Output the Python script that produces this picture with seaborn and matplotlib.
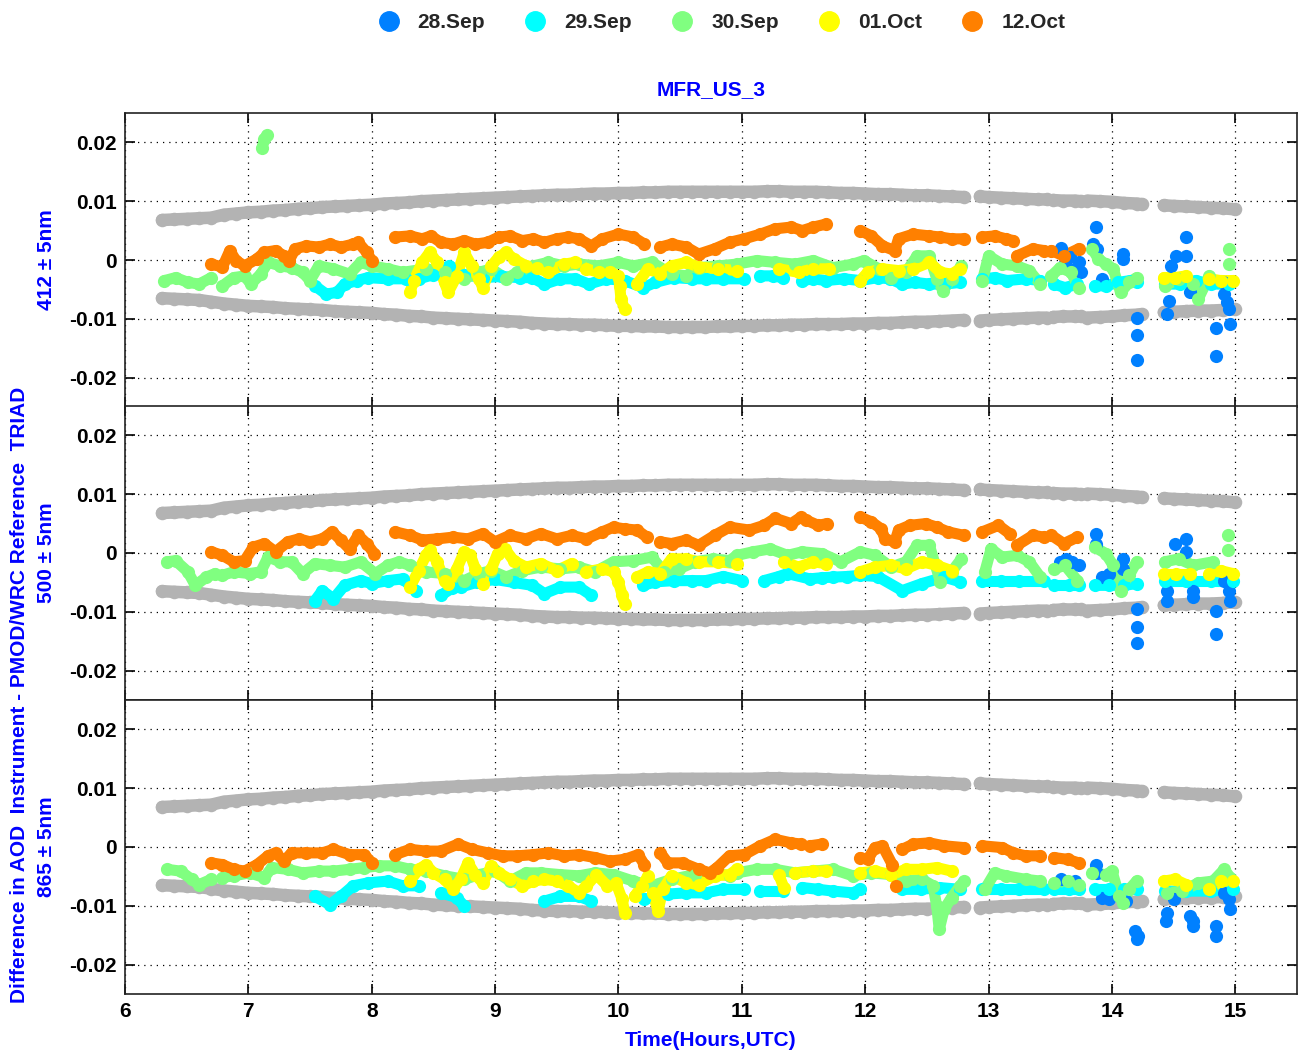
import numpy as np
import pandas as pd
import matplotlib
matplotlib.use("Agg")
import matplotlib.pyplot as plt
from matplotlib.lines import Line2D
import seaborn as sns

# ---------------------------------------------
# data
# ---------------------------------------------
nan = np.nan
GAP = None

DATES = ["28.Sep", "29.Sep", "30.Sep", "01.Oct", "12.Oct"]
DATE_COLORS = ["#0080ff", "#00ffff", "#80ff80", "#ffff00", "#ff8000"]
BANDS = ["412 \u00b1 5nm", "500 \u00b1 5nm", "865 \u00b1 5nm"]
Y_TICKS = [-0.02, -0.01, 0, 0.01, 0.02]
Y_TICK_LABELS = ["-0.02", "-0.01", "0", "0.01", "0.02"]
X_TICKS = [6, 7, 8, 9, 10, 11, 12, 13, 14, 15]

# limits of the acceptance band (same in all three panels)
gray_t = [6.3, 6.4, 6.5, 6.6, 6.7, 6.8, 6.9, 7.0, 7.1, 7.2,
          7.3, 7.4, 7.5, 7.6, 7.7, 7.8, 7.9, 8.0, 8.1, 8.2,
          8.3, 8.4, 8.5, 8.6, 8.7, 8.8, 8.9, 9.0, 9.1, 9.2,
          9.3, 9.4, 9.5, 9.6, 9.7, 9.8, 9.9, 10.0, 10.1, 10.2,
          10.3, 10.4, 10.5, 10.6, 10.7, 10.8, 10.9, 11.0, 11.1, 11.2,
          11.3, 11.4, 11.5, 11.6, 11.7, 11.8, 11.9, 12.0, 12.1, 12.2,
          12.3, 12.4, 12.5, 12.6, 12.7, 12.8,
          nan, 12.93, 13.0, 13.1, 13.2, 13.3, 13.4, 13.47,
          nan, 13.52, 13.6, 13.7, 13.75,
          nan, 13.8, 13.9, 14.0, 14.1, 14.2, 14.24,
          nan, 14.42, 14.5, 14.6, 14.7, 14.8, 14.9, 15.0]
gray_hi = [0.0068, 0.0069, 0.0070, 0.0071, 0.0072, 0.0077, 0.0079, 0.0081, 0.0082, 0.0084,
           0.0085, 0.0087, 0.0088, 0.0090, 0.0091, 0.0092, 0.0093, 0.0094, 0.0096, 0.0097,
           0.0098, 0.0100, 0.0101, 0.0102, 0.0103, 0.0104, 0.0105, 0.0106, 0.0107, 0.0108,
           0.0109, 0.0110, 0.0111, 0.0111, 0.0112, 0.0113, 0.0113, 0.0114, 0.0114, 0.0115,
           0.0115, 0.0116, 0.0116, 0.0116, 0.0116, 0.0116, 0.0116, 0.0116, 0.0116, 0.0117,
           0.0117, 0.0116, 0.0116, 0.0116, 0.0115, 0.0114, 0.0114, 0.0113, 0.0112, 0.0112,
           0.0111, 0.0110, 0.0110, 0.0109, 0.0108, 0.0107,
           nan, 0.0108, 0.0107, 0.0106, 0.0105, 0.0104, 0.0103, 0.0103,
           nan, 0.0102, 0.0101, 0.0101, 0.0100,
           nan, 0.0101, 0.0100, 0.0099, 0.0097, 0.0096, 0.0095,
           nan, 0.0093, 0.0092, 0.0091, 0.0090, 0.0089, 0.0088, 0.0086]
gray_lo = [-0.0065, -0.0066, -0.0067, -0.0068, -0.0071, -0.0074, -0.0076, -0.0078, -0.0079, -0.0080,
           -0.0082, -0.0083, -0.0084, -0.0085, -0.0087, -0.0088, -0.0089, -0.0090, -0.0092, -0.0093,
           -0.0095, -0.0096, -0.0098, -0.0099, -0.0100, -0.0101, -0.0102, -0.0103, -0.0104, -0.0105,
           -0.0107, -0.0108, -0.0109, -0.0109, -0.0110, -0.0110, -0.0111, -0.0112, -0.0112, -0.0113,
           -0.0113, -0.0114, -0.0114, -0.0114, -0.0114, -0.0113, -0.0113, -0.0112, -0.0112, -0.0111,
           -0.0111, -0.0110, -0.0110, -0.0109, -0.0109, -0.0109, -0.0108, -0.0108, -0.0107, -0.0107,
           -0.0106, -0.0105, -0.0105, -0.0104, -0.0103, -0.0102,
           nan, -0.0103, -0.0102, -0.0101, -0.0100, -0.0099, -0.0098, -0.0098,
           nan, -0.0097, -0.0096, -0.0096, -0.0096,
           nan, -0.0098, -0.0097, -0.0096, -0.0094, -0.0093, -0.0092,
           nan, -0.0089, -0.0088, -0.0087, -0.0086, -0.0086, -0.0085, -0.0084]

# ---------- 412 nm ----------
p412_sep28 = [(13.59, 0.0020), (13.62, -0.0005), (13.66, 0.0005), (13.70, -0.0015), (13.73, -0.0003),
              (13.75, -0.0020), (13.85, 0.0027), (13.87, 0.0056), (13.88, 0.0019), (13.92, -0.0032),
              (14.09, 0.0010), (14.09, 0.0002), (14.20, -0.0098), (14.20, -0.0128), (14.20, -0.0170),
              (14.45, -0.0092), (14.46, -0.0069), (14.48, -0.0010), (14.52, 0.0007), (14.60, 0.0039),
              (14.60, 0.0007), (14.63, -0.0055), (14.84, -0.0115), (14.84, -0.0163), (14.90, -0.0038),
              (14.91, -0.0058), (14.93, -0.0072), (14.95, -0.0084), (14.96, -0.0109)]
p412_sep29 = [(7.54, -0.0044), (7.63, -0.0058), (7.72, -0.0055), (7.78, -0.0041), (7.88, -0.0035),
              (7.97, -0.0030), (8.13, -0.0032), (8.28, -0.0032), (8.38, -0.0032), (8.50, -0.0025),
              (8.63, -0.0010), (8.75, -0.0025), (8.90, -0.0030), (9.05, -0.0028), (9.20, -0.0030),
              (9.30, -0.0030), (9.40, -0.0041), (9.53, -0.0032), (9.65, -0.0032), (9.76, -0.0041),
              (9.90, -0.0032), (10.05, -0.0035), (10.20, -0.0047), (10.30, -0.0038), (10.45, -0.0030),
              (10.60, -0.0032), (10.71, -0.0032), (10.85, -0.0032), (11.02, -0.0032), GAP,
              (11.15, -0.0027), (11.25, -0.0027), (11.33, -0.0030), GAP,
              (11.49, -0.0035), (11.58, -0.0032), (11.68, -0.0035), (11.83, -0.0032), (11.96, -0.0035),
              (12.10, -0.0030), (12.20, -0.0032), (12.30, -0.0041), (12.40, -0.0038), (12.52, -0.0041),
              (12.65, -0.0041), (12.77, -0.0038), GAP,
              (12.95, -0.0032), (13.05, -0.0030), (13.15, -0.0035), (13.30, -0.0032), (13.42, -0.0035), GAP,
              (13.53, -0.0041), (13.62, -0.0047), (13.72, -0.0041), GAP,
              (13.86, -0.0044), (13.95, -0.0044), (14.05, -0.0038), (14.15, -0.0035), (14.20, -0.0038), GAP,
              (14.43, -0.0041), (14.55, -0.0041), (14.68, -0.0035), (14.80, -0.0041), (14.95, -0.0041)]
p412_sep30 = [(7.11, 0.0190), (7.13, 0.0205), (7.15, 0.0212), GAP,
              (6.32, -0.0035), (6.41, -0.0030), (6.51, -0.0038), (6.60, -0.0041), (6.70, -0.0030), GAP,
              (6.79, -0.0044), (6.88, -0.0030), (6.97, -0.0027), (7.02, -0.0041), (7.10, -0.0024),
              (7.16, -0.0004), (7.26, -0.0010), (7.35, -0.0013), (7.44, -0.0021), (7.50, -0.0035),
              (7.57, -0.0010), (7.69, -0.0015), (7.82, -0.0024), (7.91, -0.0004), (8.00, -0.0010),
              (8.13, -0.0015), (8.25, -0.0021), (8.44, -0.0015), (8.59, -0.0021), (8.75, -0.0032),
              (8.87, -0.0021), (8.97, -0.0015), (9.09, -0.0032), (9.18, -0.0021), (9.31, -0.0010),
              (9.43, -0.0004), (9.56, -0.0010), (9.68, -0.0007), (9.84, -0.0010), (10.00, -0.0004),
              (10.12, -0.0010), (10.27, -0.0004), (10.43, -0.0024), (10.55, -0.0027), (10.65, -0.0013),
              (10.81, -0.0010), (10.96, -0.0007), (11.12, -0.0001), (11.27, -0.0004), (11.43, -0.0007),
              (11.58, -0.0001), (11.74, -0.0013), (11.90, -0.0007), (11.99, -0.0001), (12.11, -0.0015),
              (12.21, -0.0030), (12.33, -0.0021), (12.42, 0.0007), (12.52, 0.0007), (12.58, -0.0032),
              (12.63, -0.0052), (12.70, -0.0032), (12.78, -0.0010), GAP,
              (12.95, -0.0035), (13.00, 0.0007), (13.11, -0.0007), (13.23, -0.0010), (13.33, -0.0018),
              (13.42, -0.0041), GAP,
              (13.51, -0.0027), (13.58, -0.0013), (13.67, -0.0021), (13.73, -0.0047), GAP,
              (13.84, 0.0019), (13.89, 0.0002), (13.95, -0.0007), (14.01, -0.0015), (14.07, -0.0055),
              (14.14, -0.0038), (14.20, -0.0030), GAP,
              (14.43, -0.0044), (14.54, -0.0032), (14.66, -0.0041), (14.70, -0.0066), (14.79, -0.0027), GAP,
              (14.95, 0.0019), GAP, (14.95, -0.0007)]
p412_oct01 = [(8.31, -0.0055), (8.34, -0.0035), (8.41, -0.0004), (8.47, 0.0013), (8.53, -0.0004),
              (8.59, -0.0038), (8.62, -0.0055), (8.69, -0.0027), (8.75, 0.0013), (8.81, -0.0010),
              (8.87, -0.0032), (8.90, -0.0047), (8.97, -0.0010), (9.03, 0.0005), (9.09, 0.0013),
              (9.15, 0.0002), (9.25, -0.0010), (9.34, -0.0013), (9.43, -0.0021), (9.56, -0.0007),
              (9.65, -0.0004), (9.74, -0.0015), (9.84, -0.0021), (9.93, -0.0021), (10.00, -0.0027),
              (10.01, -0.0044), (10.02, -0.0066), (10.05, -0.0084), GAP,
              (10.15, -0.0041), (10.24, -0.0015), (10.34, -0.0024), (10.43, -0.0010), (10.55, -0.0004),
              (10.65, -0.0012), (10.81, -0.0015), (10.96, -0.0018), GAP,
              (11.30, -0.0015), (11.46, -0.0021), (11.58, -0.0015), (11.71, -0.0015), GAP,
              (11.96, -0.0035), (12.02, -0.0021), (12.14, -0.0015), (12.27, -0.0018), (12.39, -0.0015),
              (12.52, -0.0004), (12.61, -0.0021), (12.70, -0.0024), (12.77, -0.0015), GAP,
              (14.42, -0.0030), (14.51, -0.0030), (14.60, -0.0027), GAP,
              (14.79, -0.0032), (14.88, -0.0035), (14.98, -0.0035)]
p412_oct12 = [(6.70, -0.0007), (6.79, -0.0012), (6.85, 0.0016), (6.90, -0.0001), (6.97, -0.0010),
              (7.07, 0.0002), (7.13, 0.0013), (7.22, 0.0016), (7.29, 0.0007), (7.33, -0.0001),
              (7.38, 0.0019), (7.47, 0.0024), (7.57, 0.0022), (7.66, 0.0027), (7.75, 0.0022),
              (7.85, 0.0027), (7.89, 0.0030), (7.96, 0.0013), (8.00, -0.0001), GAP,
              (8.19, 0.0039), (8.31, 0.0041), (8.41, 0.0036), (8.48, 0.0041), (8.56, 0.0030),
              (8.66, 0.0027), (8.75, 0.0033), (8.84, 0.0027), (8.94, 0.0030), (9.03, 0.0039),
              (9.12, 0.0041), (9.22, 0.0033), (9.31, 0.0036), (9.40, 0.0030), (9.50, 0.0036),
              (9.59, 0.0039), (9.68, 0.0036), (9.78, 0.0024), (9.87, 0.0036), (10.00, 0.0044),
              (10.12, 0.0039), (10.21, 0.0027), GAP,
              (10.34, 0.0022), (10.43, 0.0027), (10.55, 0.0022), (10.65, 0.0010), (10.78, 0.0019),
              (10.90, 0.0030), (11.02, 0.0036), (11.15, 0.0044), (11.27, 0.0053), (11.40, 0.0056),
              (11.49, 0.0050), (11.58, 0.0056), (11.68, 0.0061), GAP,
              (11.96, 0.0050), (12.05, 0.0041), (12.14, 0.0024), (12.24, 0.0016), (12.27, 0.0036),
              (12.39, 0.0044), (12.52, 0.0041), (12.61, 0.0039), (12.70, 0.0036), (12.80, 0.0036), GAP,
              (12.95, 0.0039), (13.05, 0.0041), (13.14, 0.0036), (13.20, 0.0033), GAP,
              (13.23, 0.0007), (13.36, 0.0019), (13.45, 0.0016), GAP,
              (13.51, 0.0016), (13.61, 0.0007), (13.73, 0.0019)]

# ---------- 500 nm ----------
p500_sep28 = [(13.58, -0.0016), (13.63, -0.0010), (13.68, -0.0015), (13.73, -0.0020), (13.87, 0.0033),
              (13.87, 0.0016), (13.92, -0.0041), (13.98, -0.0035), (14.09, -0.0010), (14.09, -0.0027),
              (14.20, -0.0096), (14.20, -0.0125), (14.20, -0.0153), (14.45, -0.0081), (14.45, -0.0064),
              (14.51, 0.0016), (14.60, 0.0024), (14.60, 0.0002), (14.66, -0.0064), (14.66, -0.0075),
              (14.84, -0.0098), (14.84, -0.0138), (14.91, -0.0047), (14.95, -0.0064), (14.96, -0.0081)]
p500_sep29 = [(7.54, -0.0081), (7.60, -0.0064), (7.69, -0.0078), (7.78, -0.0055), (7.91, -0.0047),
              (8.00, -0.0052), (8.13, -0.0047), (8.25, -0.0044), (8.36, -0.0064), GAP,
              (8.56, -0.0072), (8.65, -0.0060), (8.72, -0.0058), (8.85, -0.0050), (9.00, -0.0045),
              (9.15, -0.0050), (9.30, -0.0055), (9.40, -0.0069), (9.53, -0.0058), (9.68, -0.0058),
              (9.78, -0.0072), GAP,
              (10.20, -0.0055), (10.30, -0.0049), (10.45, -0.0047), (10.60, -0.0047), (10.71, -0.0047),
              (10.85, -0.0040), (11.00, -0.0047), GAP,
              (11.18, -0.0047), (11.30, -0.0040), (11.37, -0.0035), (11.55, -0.0044), (11.65, -0.0042),
              (11.74, -0.0041), (11.85, -0.0040), (11.96, -0.0038), (12.10, -0.0040), (12.30, -0.0064),
              (12.46, -0.0052), (12.64, -0.0041), (12.77, -0.0049), GAP,
              (12.95, -0.0047), (13.10, -0.0047), (13.25, -0.0047), (13.45, -0.0047), GAP,
              (13.53, -0.0055), (13.65, -0.0055), (13.73, -0.0055), GAP,
              (13.86, -0.0055), (13.98, -0.0055), (14.10, -0.0055), (14.20, -0.0052), GAP,
              (14.43, -0.0047), (14.60, -0.0047), (14.80, -0.0047), (14.98, -0.0047)]
p500_sep30 = [(6.34, -0.0015), (6.41, -0.0013), (6.51, -0.0032), (6.57, -0.0055), (6.66, -0.0041),
              (6.73, -0.0035), GAP,
              (6.79, -0.0038), (6.88, -0.0032), (7.01, -0.0035), (7.10, -0.0032), (7.16, -0.0007),
              (7.26, -0.0015), (7.35, -0.0015), (7.44, -0.0035), (7.54, -0.0018), (7.66, -0.0021),
              (7.78, -0.0024), (7.91, -0.0015), (8.03, -0.0035), (8.13, -0.0021), (8.22, -0.0015),
              (8.31, -0.0021), (8.44, -0.0032), (8.59, -0.0035), (8.75, -0.0047), (8.87, -0.0035),
              (8.97, -0.0030), (9.09, -0.0041), (9.22, -0.0030), (9.37, -0.0024), (9.53, -0.0027),
              (9.68, -0.0024), (9.81, -0.0032), (9.96, -0.0015), (10.12, -0.0013), (10.27, -0.0007),
              (10.37, -0.0032), (10.49, -0.0027), (10.62, -0.0015), (10.77, -0.0010), (10.90, -0.0013),
              (10.96, -0.0004), (11.09, 0.0002), (11.23, 0.0007), (11.37, -0.0004), (11.49, 0.0002),
              (11.65, -0.0001), (11.80, -0.0015), (11.96, 0.0002), (12.08, -0.0004), (12.21, -0.0024),
              (12.33, -0.0015), (12.42, 0.0013), (12.52, 0.0013), (12.61, -0.0049), (12.70, -0.0032),
              (12.78, -0.0010), GAP,
              (12.97, -0.0032), (13.02, 0.0007), (13.11, -0.0007), (13.23, -0.0004), (13.33, -0.0015),
              (13.42, -0.0041), GAP,
              (13.53, -0.0027), (13.62, -0.0021), (13.72, -0.0047), GAP,
              (13.86, 0.0010), (13.95, -0.0001), (14.01, -0.0021), (14.07, -0.0064), (14.14, -0.0038),
              (14.20, -0.0015), GAP,
              (14.43, -0.0015), (14.54, -0.0010), (14.66, -0.0021), (14.82, -0.0015), GAP,
              (14.94, 0.0030), GAP, (14.94, 0.0005)]
p500_oct01 = [(8.31, -0.0058), (8.38, -0.0030), (8.44, -0.0004), (8.47, 0.0005), (8.53, -0.0015),
              (8.59, -0.0047), (8.62, -0.0052), (8.69, -0.0027), (8.75, 0.0002), (8.80, -0.0004),
              (8.84, -0.0027), (8.90, -0.0052), (8.97, -0.0027), (9.02, -0.0001), (9.08, 0.0007),
              (9.15, -0.0013), (9.25, -0.0024), (9.37, -0.0018), (9.50, -0.0030), (9.62, -0.0018),
              (9.74, -0.0032), (9.87, -0.0027), (9.96, -0.0032), (10.00, -0.0049), (10.03, -0.0072),
              (10.05, -0.0086), GAP,
              (10.15, -0.0041), (10.24, -0.0032), (10.34, -0.0035), (10.43, -0.0010), (10.55, -0.0010),
              (10.65, -0.0015), (10.81, -0.0015), (10.96, -0.0018), GAP,
              (11.34, -0.0015), (11.46, -0.0024), (11.58, -0.0015), (11.68, -0.0018), GAP,
              (11.96, -0.0032), (12.08, -0.0024), (12.21, -0.0021), (12.33, -0.0027), (12.46, -0.0015),
              (12.58, -0.0021), (12.70, -0.0030), GAP,
              (14.42, -0.0035), (14.52, -0.0035), (14.63, -0.0035), GAP,
              (14.79, -0.0035), (14.88, -0.0030), (14.98, -0.0035)]
p500_oct12 = [(6.70, 0.0002), (6.79, -0.0004), (6.88, -0.0015), (6.97, -0.0013), (7.04, 0.0010),
              (7.13, 0.0016), (7.22, 0.0002), (7.32, 0.0019), (7.41, 0.0024), (7.50, 0.0019),
              (7.60, 0.0024), (7.68, 0.0036), (7.75, 0.0022), (7.82, 0.0007), (7.89, 0.0030),
              (7.96, 0.0016), (8.02, -0.0001), GAP,
              (8.19, 0.0036), (8.31, 0.0030), (8.41, 0.0022), (8.53, 0.0024), (8.66, 0.0027),
              (8.78, 0.0024), (8.90, 0.0033), (9.00, 0.0019), (9.12, 0.0030), (9.25, 0.0024),
              (9.37, 0.0033), (9.50, 0.0024), (9.62, 0.0030), (9.74, 0.0024), (9.87, 0.0036),
              (9.96, 0.0044), (10.05, 0.0041), (10.15, 0.0039), (10.23, 0.0027), GAP,
              (10.34, 0.0019), (10.43, 0.0016), (10.55, 0.0022), (10.65, 0.0013), (10.78, 0.0030),
              (10.90, 0.0044), (11.06, 0.0039), (11.18, 0.0047), (11.27, 0.0059), (11.40, 0.0050),
              (11.48, 0.0061), GAP,
              (11.52, 0.0056), (11.62, 0.0047), (11.69, 0.0050), GAP,
              (11.96, 0.0061), (12.05, 0.0053), (12.13, 0.0041), (12.16, 0.0024), (12.24, 0.0019),
              (12.27, 0.0039), (12.36, 0.0047), (12.49, 0.0050), (12.58, 0.0044), (12.67, 0.0036),
              (12.80, 0.0030), GAP,
              (12.95, 0.0036), (13.08, 0.0047), (13.17, 0.0033), GAP,
              (13.23, 0.0013), (13.36, 0.0030), (13.45, 0.0027), GAP,
              (13.51, 0.0030), (13.61, 0.0016), (13.72, 0.0027)]

# ---------- 865 nm ----------
p865_sep28 = [(13.59, -0.0055), (13.65, -0.0060), (13.70, -0.0058), (13.87, -0.0030), (13.88, -0.0044),
              (13.92, -0.0086), (13.98, -0.0089), (14.11, -0.0092), (14.19, -0.0143), (14.20, -0.0157),
              (14.21, -0.0152), (14.44, -0.0126), (14.45, -0.0112), (14.50, -0.0089), (14.63, -0.0118),
              (14.66, -0.0135), (14.66, -0.0126), (14.84, -0.0135), (14.84, -0.0152), (14.91, -0.0078),
              (14.95, -0.0089), (14.96, -0.0106)]
p865_sep29 = [(7.54, -0.0084), (7.66, -0.0098), (7.75, -0.0084), (7.85, -0.0066), (7.97, -0.0061),
              (8.13, -0.0058), (8.25, -0.0066), (8.38, -0.0066), GAP,
              (8.56, -0.0078), (8.69, -0.0086), (8.75, -0.0101), GAP,
              (9.40, -0.0092), (9.53, -0.0084), (9.68, -0.0084), (9.78, -0.0092), GAP,
              (10.21, -0.0089), (10.40, -0.0080), (10.55, -0.0078), (10.71, -0.0078), (10.85, -0.0072),
              (11.02, -0.0072), GAP,
              (11.15, -0.0075), (11.33, -0.0075), GAP,
              (11.49, -0.0069), (11.62, -0.0072), (11.74, -0.0075), (11.90, -0.0078), (11.96, -0.0072), GAP,
              (12.30, -0.0072), (12.45, -0.0072), (12.60, -0.0069), (12.77, -0.0072), GAP,
              (12.95, -0.0072), (13.10, -0.0072), (13.25, -0.0072), (13.45, -0.0072), GAP,
              (13.53, -0.0072), (13.65, -0.0072), (13.73, -0.0072), GAP,
              (13.86, -0.0072), (13.98, -0.0072), (14.10, -0.0072), (14.20, -0.0072), GAP,
              (14.43, -0.0075), (14.60, -0.0075), (14.80, -0.0075), (14.98, -0.0072)]
p865_sep30 = [(6.34, -0.0038), (6.45, -0.0041), (6.54, -0.0055), (6.60, -0.0064), (6.70, -0.0055), GAP,
              (6.79, -0.0052), (6.88, -0.0049), (7.01, -0.0044), (7.13, -0.0052), (7.19, -0.0035),
              (7.32, -0.0038), (7.44, -0.0044), (7.57, -0.0041), (7.69, -0.0041), (7.82, -0.0038),
              (7.94, -0.0035), (8.06, -0.0032), (8.19, -0.0032), (8.31, -0.0038), (8.44, -0.0041),
              (8.59, -0.0049), (8.75, -0.0055), (8.87, -0.0047), (9.00, -0.0041), (9.12, -0.0058),
              (9.25, -0.0044), (9.37, -0.0044), (9.53, -0.0047), (9.68, -0.0049), (9.81, -0.0044),
              (9.96, -0.0047), (10.12, -0.0058), (10.27, -0.0066), (10.43, -0.0055), (10.62, -0.0047),
              (10.77, -0.0044), (10.90, -0.0049), (10.96, -0.0044), (11.12, -0.0038), (11.27, -0.0038),
              (11.43, -0.0044), (11.58, -0.0041), (11.74, -0.0038), (11.90, -0.0049), (12.05, -0.0044),
              (12.21, -0.0047), (12.33, -0.0058), (12.46, -0.0055), (12.55, -0.0066), (12.58, -0.0101),
              (12.60, -0.0140), (12.64, -0.0106), (12.70, -0.0086), (12.77, -0.0066), (12.80, -0.0058), GAP,
              (12.97, -0.0072), (13.05, -0.0044), (13.14, -0.0049), (13.30, -0.0055), (13.42, -0.0058), GAP,
              (13.53, -0.0061), (13.64, -0.0058), (13.73, -0.0064), GAP,
              (13.84, -0.0044), (13.95, -0.0047), (14.00, -0.0041), (14.06, -0.0084), (14.09, -0.0095),
              (14.14, -0.0072), (14.20, -0.0058), GAP,
              (14.45, -0.0078), (14.57, -0.0075), (14.70, -0.0061), (14.82, -0.0058), (14.91, -0.0038),
              (14.96, -0.0052)]
p865_oct01 = [(8.31, -0.0058), (8.38, -0.0038), (8.44, -0.0030), (8.50, -0.0044), (8.59, -0.0055),
              (8.66, -0.0072), (8.72, -0.0055), (8.78, -0.0027), (8.84, -0.0047), (8.90, -0.0061),
              (8.97, -0.0032), (9.03, -0.0044), (9.12, -0.0055), (9.22, -0.0066), (9.31, -0.0058),
              (9.40, -0.0055), (9.50, -0.0058), (9.59, -0.0066), (9.68, -0.0078), (9.74, -0.0066),
              (9.82, -0.0047), (9.91, -0.0066), (9.98, -0.0061), (10.03, -0.0089), (10.05, -0.0112), GAP,
              (10.13, -0.0084), (10.19, -0.0066), (10.24, -0.0049), (10.28, -0.0078), (10.32, -0.0109),
              (10.36, -0.0072), (10.43, -0.0049), (10.55, -0.0061), (10.65, -0.0064), (10.78, -0.0049),
              (10.90, -0.0047), (10.96, -0.0038), GAP,
              (11.30, -0.0047), (11.34, -0.0069), GAP,
              (11.43, -0.0044), (11.58, -0.0041), (11.68, -0.0041), GAP,
              (11.96, -0.0044), (12.08, -0.0041), (12.21, -0.0047), (12.33, -0.0038), (12.46, -0.0038),
              (12.58, -0.0035), (12.70, -0.0041), GAP,
              (14.42, -0.0058), (14.51, -0.0055), (14.60, -0.0064), GAP,
              (14.79, -0.0072), (14.88, -0.0058), (14.98, -0.0058)]
p865_oct12 = [(6.70, -0.0027), (6.79, -0.0030), (6.88, -0.0038), (6.97, -0.0041), (7.07, -0.0030),
              (7.16, -0.0015), (7.22, -0.0010), (7.29, -0.0024), (7.35, -0.0010), (7.47, -0.0010),
              (7.60, -0.0010), (7.69, -0.0004), (7.82, -0.0013), (7.94, -0.0013), (8.00, -0.0027), GAP,
              (8.19, -0.0013), (8.31, -0.0004), (8.44, -0.0007), (8.56, -0.0007), (8.70, 0.0005),
              (8.81, -0.0004), (8.94, -0.0010), (9.06, -0.0015), (9.18, -0.0015), (9.31, -0.0013),
              (9.43, -0.0010), (9.56, -0.0015), (9.68, -0.0013), (9.81, -0.0018), (9.93, -0.0024),
              (10.05, -0.0021), (10.16, -0.0013), (10.21, -0.0030), GAP,
              (10.34, -0.0010), (10.40, -0.0027), (10.52, -0.0027), (10.65, -0.0038), (10.74, -0.0044),
              (10.80, -0.0035), (10.90, -0.0015), (11.02, -0.0013), (11.15, 0.0002), (11.27, 0.0013),
              (11.40, 0.0007), (11.48, 0.0005), GAP,
              (11.55, 0.0002), (11.65, 0.0005), GAP,
              (11.96, -0.0018), (12.02, -0.0021), (12.08, -0.0001), (12.14, 0.0002), (12.22, -0.0030), GAP,
              (12.25, -0.0066), GAP,
              (12.30, -0.0004), (12.39, 0.0005), (12.52, 0.0007), (12.64, 0.0002), (12.80, -0.0001), GAP,
              (12.95, 0.0002), (13.11, -0.0001), (13.20, -0.0010), (13.30, -0.0015), (13.42, -0.0015), GAP,
              (13.53, -0.0018), (13.64, -0.0021), (13.73, -0.0027)]

PANEL_SERIES = [
    [p412_sep28, p412_sep29, p412_sep30, p412_oct01, p412_oct12],
    [p500_sep28, p500_sep29, p500_sep30, p500_oct01, p500_oct12],
    [p865_sep28, p865_sep29, p865_sep30, p865_oct01, p865_oct12],
]


def pairs_to_frame(pairs):
    """Turn a list of (time, aod) pairs with GAP breaks into a frame with segment ids"""
    rows = []
    seg = 0
    for p in pairs:
        if p is None:
            seg += 1
            continue
        rows.append((p[0], p[1], seg))
    return pd.DataFrame(rows, columns=["time", "aod", "seg"])


def lists_to_frame(t, v):
    df = pd.DataFrame({"time": t, "aod": v})
    df["seg"] = df["aod"].isna().cumsum()
    return df.dropna()


# ---------------------------------------------
# plotting
# ---------------------------------------------
sns.set_style("ticks")
plt.rcParams["font.family"] = ["Liberation Sans", "DejaVu Sans"]
plt.rcParams["font.weight"] = "bold"
plt.rcParams["axes.labelweight"] = "bold"

GRAY = "#b3b3b3"
BLUE_TEXT = "#0000ff"
FS = 15

fig = plt.figure(figsize=(13.05, 10.55), dpi=100)
left, width, height = 125 / 1305, 1172 / 1305, 294 / 1055
bottoms = [(1055 - 407) / 1055, (1055 - 700) / 1055, (1055 - 994) / 1055]

gray_hi_df = lists_to_frame(gray_t, gray_hi)
gray_lo_df = lists_to_frame(gray_t, gray_lo)

axes = []
for i, band in enumerate(BANDS):
    ax = fig.add_axes([left, bottoms[i], width, height])
    axes.append(ax)

    # acceptance limits
    for gdf in (gray_hi_df, gray_lo_df):
        sns.lineplot(data=gdf, x="time", y="aod", units="seg", estimator=None, sort=False,
                     color=GRAY, lw=9, solid_capstyle="round", ax=ax, legend=False)
        sns.scatterplot(data=gdf, x="time", y="aod", color=GRAY, s=95, linewidth=0,
                        ax=ax, legend=False, zorder=3)

    # one series per measurement day
    for date, color, pairs in zip(DATES, DATE_COLORS, PANEL_SERIES[i]):
        sdf = pairs_to_frame(pairs)
        if date != "28.Sep":
            sns.lineplot(data=sdf, x="time", y="aod", units="seg", estimator=None, sort=False,
                         color=color, lw=8, solid_capstyle="round", solid_joinstyle="round",
                         ax=ax, legend=False, zorder=4)
        sns.scatterplot(data=sdf, x="time", y="aod", color=color, s=90, linewidth=0,
                        ax=ax, legend=False, zorder=5)

    ax.set_xlim(6, 15.5)
    ax.set_ylim(-0.025, 0.025)
    ax.set_xticks(X_TICKS)
    ax.set_yticks(Y_TICKS)
    ax.set_yticklabels(Y_TICK_LABELS)
    ax.grid(True, color="black", linestyle=(0, (1, 4)), linewidth=0.9)
    ax.set_axisbelow(True)
    ax.tick_params(direction="in", length=7, width=1.2, top=True, right=True,
                   labelsize=FS, pad=6, colors="black")
    for sp in ax.spines.values():
        sp.set_linewidth(1.2)
        sp.set_color("#222222")
    ax.set_ylabel(band, color=BLUE_TEXT, fontsize=FS, fontweight="bold", va="center")
    ax.yaxis.set_label_coords(-78 / 1172, 0.5)
    if i < 2:
        ax.set_xlabel("")
        ax.tick_params(labelbottom=False)
    else:
        ax.set_xticklabels([str(x) for x in X_TICKS])
        ax.set_xlabel("Time(Hours,UTC)", color=BLUE_TEXT, fontsize=FS, fontweight="bold", labelpad=7)

axes[0].set_title("MFR_US_3", color=BLUE_TEXT, fontsize=FS, fontweight="bold", pad=13)

fig.text(20 / 1305, 1 - 695 / 1055,
         "Difference in AOD  Instrument - PMOD/WRC Reference  TRIAD",
         rotation=90, ha="center", va="center", color=BLUE_TEXT, fontsize=FS, fontweight="bold")

handles = [Line2D([], [], linestyle="none", marker="o", markersize=14,
                  markerfacecolor=c, markeredgecolor=c) for c in DATE_COLORS]
fig.legend(handles, DATES, loc="upper center", bbox_to_anchor=(0.553, 1.005), ncol=5,
           frameon=False, fontsize=FS, handlelength=1.0, handletextpad=0.9, columnspacing=1.9)

fig.savefig("out.png", dpi=100)
